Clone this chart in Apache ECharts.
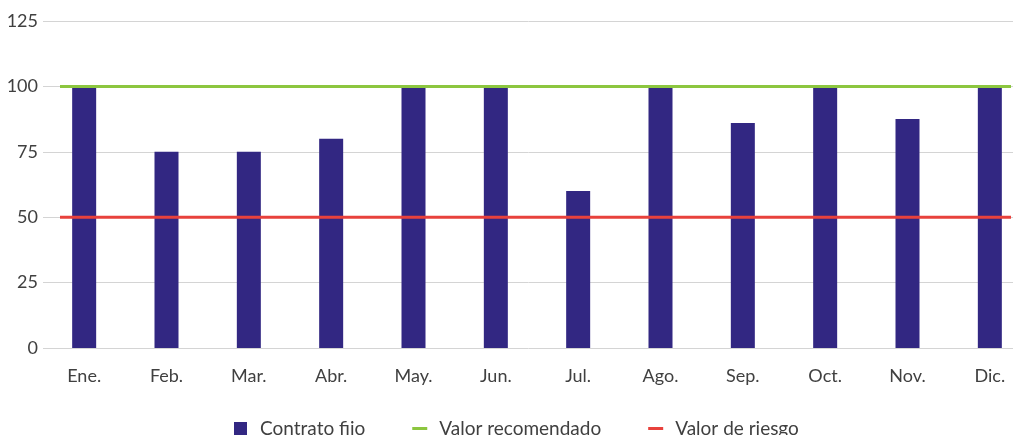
<!DOCTYPE html>
<html>
<head>
<meta charset="utf-8">
<script src="https://cdn.jsdelivr.net/npm/echarts@6/dist/echarts.min.js"></script>
<style>
  html, body { margin: 0; padding: 0; background: #fff; }
</style>
</head>
<body>
<div id="main" style="width: 1013px; height: 435px;"></div>
<script>
// datos del gráfico
var meses = ['Ene.', 'Feb.', 'Mar.', 'Abr.', 'May.', 'Jun.', 'Jul.', 'Ago.', 'Sep.', 'Oct.', 'Nov.', 'Dic.'];
var contratoFijo = [100, 75, 75, 80, 100, 100, 60, 100, 86, 100, 87.5, 100];
var valorRecomendado = [100, 100, 100, 100, 100, 100, 100, 100, 100, 100, 100, 100];
var valorRiesgo = [50, 50, 50, 50, 50, 50, 50, 50, 50, 50, 50, 50];
var ticksY = [0, 25, 50, 75, 100, 125];

var fuente = 'Lato';
var myChart = echarts.init(document.getElementById('main'));

var option = {
    animation: false,
    textStyle: { fontFamily: fuente },
    grid: [
        { left: 43, width: 988, top: 21, bottom: 87, containLabel: false, outerBoundsMode: 'none' },
        // segunda rejilla solo para las líneas de referencia
        { left: 60, right: 2, top: 21, bottom: 87, containLabel: false, outerBoundsMode: 'none' }
    ],
    legend: {
        bottom: -8,
        left: 229,
        itemWidth: 15,
        itemHeight: 13,
        itemGap: 47,
        textStyle: { fontFamily: fuente, fontSize: 19, color: '#404040', padding: [0, 0, 0, 7] },
        data: [
            { name: 'Contrato fijo', icon: 'path://M0,0h13v13h-13z' },
            { name: 'Valor recomendado', icon: 'path://M0,0h15v3h-15z' },
            { name: 'Valor de riesgo', icon: 'path://M0,0h15v3h-15z' }
        ]
    },
    xAxis: [
        {
            type: 'category',
            gridIndex: 0,
            data: meses,
            axisTick: { show: false },
            axisLine: { show: false },
            axisLabel: { color: '#404040', fontSize: 18, margin: 19, fontFamily: fuente }
        },
        {
            type: 'category',
            gridIndex: 1,
            data: meses,
            boundaryGap: false,
            show: false
        }
    ],
    yAxis: [
        {
            type: 'value',
            gridIndex: 0,
            min: 0,
            max: 125,
            interval: 25,
            axisLine: { show: false },
            axisTick: { show: false },
            axisLabel: { color: '#404040', fontSize: 18, margin: 5, fontFamily: fuente },
            splitLine: { lineStyle: { color: '#d4d4d4', width: 1 } }
        },
        {
            type: 'value',
            gridIndex: 1,
            min: 0,
            max: 125,
            interval: 25,
            show: false
        }
    ],
    series: [
        {
            name: 'Contrato fijo',
            type: 'bar',
            xAxisIndex: 0,
            yAxisIndex: 0,
            barWidth: 24,
            itemStyle: { color: '#322782' },
            data: contratoFijo
        },
        {
            name: 'Valor recomendado',
            type: 'line',
            xAxisIndex: 1,
            yAxisIndex: 1,
            symbol: 'none',
            lineStyle: { color: '#8cc63f', width: 3 },
            itemStyle: { color: '#8cc63f' },
            data: valorRecomendado
        },
        {
            name: 'Valor de riesgo',
            type: 'line',
            xAxisIndex: 1,
            yAxisIndex: 1,
            symbol: 'none',
            lineStyle: { color: '#e8413c', width: 3 },
            itemStyle: { color: '#e8413c' },
            data: valorRiesgo
        }
    ]
};
myChart.setOption(option);
</script>
</body>
</html>
